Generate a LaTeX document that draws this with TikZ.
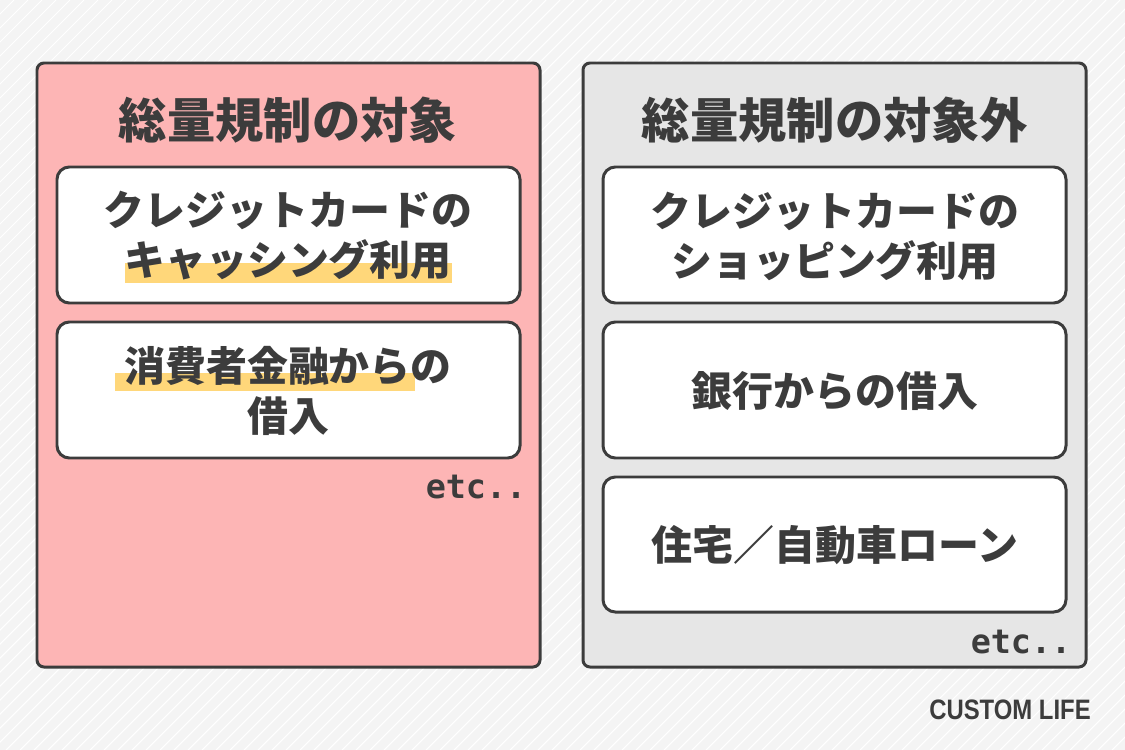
\documentclass[tikz,border=0pt]{standalone}
\usepackage{fontspec}
\newfontfamily\cjk{Noto Sans CJK JP}
\setsansfont{Liberation Sans}
\setmonofont{DejaVu Sans Mono}
\definecolor{ink}{HTML}{3C3C3C}
\definecolor{pinkbg}{HTML}{FDB5B5}
\definecolor{graybg}{HTML}{E6E6E6}
\definecolor{hl}{HTML}{FFD77A}
\definecolor{bgc}{HTML}{F4F4F4}
\begin{document}
\begin{tikzpicture}[x=0.02cm,y=-0.02cm,
 panel/.style={draw=ink,line width=1.7pt,rounded corners=4pt},
 item/.style={draw=ink,line width=1.7pt,rounded corners=7pt,fill=white},
 ttl/.style={font=\cjk\bfseries\fontsize{27.5}{30}\selectfont,text=ink},
 txt/.style={font=\cjk\bfseries\fontsize{23.3}{28.5}\selectfont,text=ink,align=center},
 etc/.style={font=\ttfamily\bfseries\fontsize{19}{22}\selectfont,text=ink}]
\fill[bgc] (0,0) rectangle (1125,750);
\begin{scope}
\clip (0,0) rectangle (1125,750);
\foreach \i in {0,14,...,1900}{\draw[white,line width=0.6pt] (\i,0) -- (\i-750,750);}
\end{scope}
\useasboundingbox (0,0) rectangle (1125,750);
\draw[panel,fill=pinkbg] (37,63) rectangle (540,667);
\draw[panel,fill=graybg] (583,63) rectangle (1086,667);
\node[ttl] (t1) at (288,120) {総量規制の対象};
\node[ttl] (t2) at (835,120) {総量規制の対象外};
\draw[item] (57,167) rectangle (520,303);
\draw[item] (57,322) rectangle (520,458);
\draw[item] (603,167) rectangle (1066,303);
\draw[item] (603,322) rectangle (1066,458);
\draw[item] (603,477) rectangle (1066,612);
\fill[hl] (125,263) rectangle (452,283);
\fill[hl] (115,373) rectangle (415,391);
\node[txt] (a1) at (288,236) {クレジットカードの\\キャッシング利用};
\node[txt] (a2) at (288,391) {消費者金融からの\\借入};
\node[txt] (b1) at (835,236) {クレジットカードの\\ショッピング利用};
\node[txt] (b2) at (835,391) {銀行からの借入};
\node[txt] (b3) at (835,545) {住宅／自動車ローン};
\node[etc] (e1) at (476,487) {etc..};
\node[etc] (e2) at (1021,642) {etc..};
\node[font=\sffamily\bfseries\fontsize{16}{18}\selectfont,text=ink,xscale=0.85] (logo) at (1010,710) {CUSTOM LIFE};
\end{tikzpicture}
\end{document}
